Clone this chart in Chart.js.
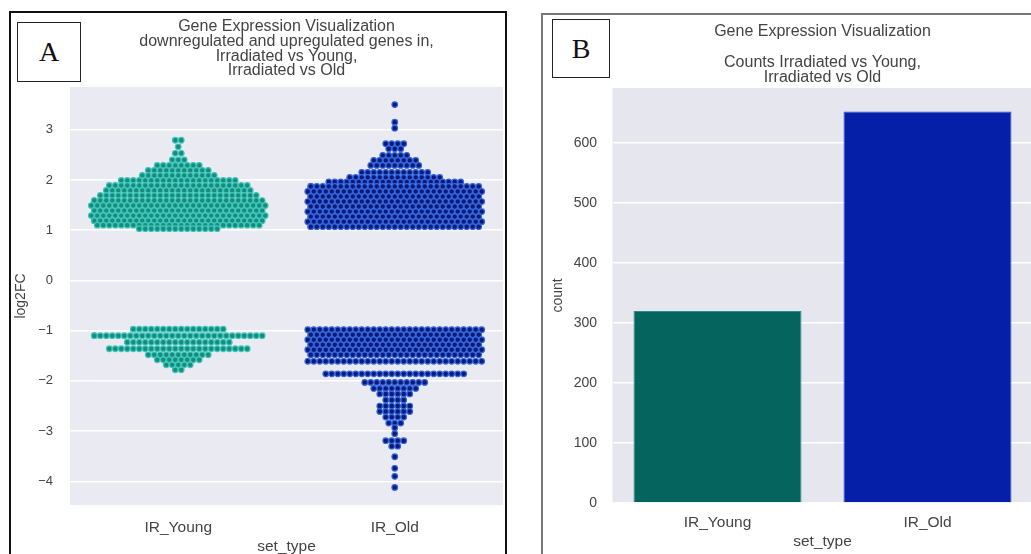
<!DOCTYPE html>
<html>
<head>
<meta charset="utf-8">
<script src="https://cdn.jsdelivr.net/npm/chart.js@4.4.1/dist/chart.umd.min.js"></script>
<style>
  html, body { margin: 0; padding: 0; background: #fff; overflow: hidden; width: 1031px; height: 554px; }
  .frame { position: absolute; box-sizing: border-box; }
  #frameA { left: 9px; top: 11px; width: 498px; height: 620px; border: 2px solid #111; }
  #frameB { left: 541px; top: 13px; width: 620px; height: 620px; border: 2px solid #777; }
  canvas { position: absolute; top: 0; }
  #chartA { left: 0; }
  #chartB { left: 543px; }
  .tag {
    position: absolute; box-sizing: border-box; border: 1.5px solid #222; background: #fff;
    font-family: "Liberation Serif", "DejaVu Serif", serif; font-size: 28px; color: #111;
    display: flex; align-items: center; justify-content: center;
  }
  #tagA { left: 17px; top: 22px; width: 64px; height: 60px; }
  #tagB { left: 552px; top: 19px; width: 58px; height: 59px; }
</style>
</head>
<body>
<div class="frame" id="frameA"></div>
<div class="frame" id="frameB"></div>
<canvas id="chartA" width="541" height="580"></canvas>
<canvas id="chartB" width="500" height="580"></canvas>
<div class="tag" id="tagA">A</div>
<div class="tag" id="tagB">B</div>
<script>
// categories and values
const categories = ["IR_Young", "IR_Old"];
const counts = [320, 653];
const logTicks = [-4, -3, -2, -1, 0, 1, 2, 3];
const countTicks = [0, 100, 200, 300, 400, 500, 600];

// swarm rows: [log2FC, number of genes in that row]
const youngUp = [[2.79, 2], [2.66, 1], [2.53, 2], [2.40, 3], [2.29, 8], [2.19, 11], [2.09, 13],
  [1.99, 20], [1.89, 24], [1.79, 25], [1.69, 27], [1.59, 30], [1.49, 30], [1.39, 30],
  [1.29, 30], [1.19, 30], [1.10, 28], [1.03, 14]];
const youngDown = [[-0.97, 16], [-1.10, 30], [-1.23, 18], [-1.36, 24], [-1.48, 11],
  [-1.58, 8], [-1.68, 5], [-1.78, 2]];
const oldUp = [[3.50, 1], [3.15, 1], [3.03, 1], [2.72, 4], [2.62, 3], [2.49, 5], [2.39, 8],
  [2.29, 9], [2.15, 12], [2.05, 16], [1.96, 23], [1.87, 30], [1.77, 30], [1.67, 30],
  [1.57, 30], [1.47, 30], [1.37, 30], [1.27, 30], [1.17, 30], [1.07, 30]];
const oldDown = [[-0.98, 30], [-1.08, 30], [-1.18, 30], [-1.28, 30], [-1.38, 30], [-1.48, 30],
  [-1.61, 30], [-1.86, 24], [-2.03, 11], [-2.15, 8], [-2.26, 6], [-2.38, 4], [-2.50, 6],
  [-2.61, 6], [-2.72, 4], [-2.84, 3], [-2.93, 1], [-3.05, 1], [-3.19, 4], [-3.30, 2],
  [-3.51, 1], [-3.74, 1], [-3.90, 1], [-4.12, 1]];

const titleA = ["Gene Expression Visualization", "downregulated and upregulated genes in,",
  "Irradiated vs Young,", "Irradiated vs Old"];
const titleB = ["Gene Expression Visualization", "", "Counts Irradiated vs Young,", "Irradiated vs Old"];

Chart.defaults.font.family = '"Liberation Sans", Arial, sans-serif';
Chart.defaults.color = "#444";

// lay rows out side by side around the category centre, like a swarm
const STEP = 0.0277;
const ROW_MAX = 30;
function swarm(rows, cat) {
  const pts = [];
  rows.forEach(([v, n], i) => {
    const m = Math.min(n, i % 2 ? ROW_MAX - 1 : ROW_MAX);
    for (let k = 0; k < n; k++) {
      const slot = k < m ? k - (m - 1) / 2 : (k % 2 ? -1 : 1) * (m - 1) / 2;
      pts.push({ x: cat + slot * STEP, y: v });
    }
  });
  return pts;
}

const plotBg = {
  id: "plotBg",
  beforeDraw(chart, args, opts) {
    const { ctx, chartArea: a } = chart;
    ctx.save();
    ctx.fillStyle = opts.color;
    ctx.fillRect(a.left, a.top, a.width, a.height);
    ctx.restore();
  }
};

const minus = v => String(v).replace("-", "\u2212");

new Chart(document.getElementById("chartA"), {
  type: "scatter",
  data: {
    datasets: [
      {
        data: swarm(youngUp, 0).concat(swarm(youngDown, 0)),
        backgroundColor: "#1a8a7e", borderColor: "#3cc8b8", borderWidth: 1.2, pointRadius: 2.8
      },
      {
        data: swarm(oldUp, 1).concat(swarm(oldDown, 1)),
        backgroundColor: "#0d1a78", borderColor: "#3366dd", borderWidth: 1.2, pointRadius: 2.8
      }
    ]
  },
  plugins: [plotBg],
  options: {
    responsive: false,
    animation: false,
    devicePixelRatio: 1,
    layout: { padding: { left: 0, right: 38, top: 0, bottom: 0 } },
    plugins: {
      legend: { display: false },
      tooltip: { enabled: false },
      plotBg: { color: "#eaeaf2" },
      title: {
        display: true, fullSize: false, text: titleA, color: "#444",
        font: { size: 16, weight: "normal", lineHeight: "14.8px" },
        padding: { top: 19.1, bottom: 8.7 }
      }
    },
    scales: {
      x: {
        type: "linear", min: -0.5, max: 1.5,
        afterBuildTicks: s => { s.ticks = categories.map((c, i) => ({ value: i })); },
        ticks: { callback: v => categories[v], padding: 13, font: { size: 15.5 }, color: "#444" },
        grid: { display: false, drawTicks: false },
        border: { display: false },
        title: { display: true, text: "set_type", font: { size: 15.5 }, color: "#444", padding: { top: 0, bottom: 24 } },
        afterFit: s => { s.height = 75; }
      },
      y: {
        min: -4.47, max: 3.85,
        afterBuildTicks: s => { s.ticks = logTicks.map(v => ({ value: v })); },
        ticks: { padding: 17, font: { size: 13 }, color: "#444", callback: minus },
        grid: { color: "#ffffff", lineWidth: 1.5, drawTicks: false },
        border: { display: false },
        title: { display: true, text: "log2FC", font: { size: 14 }, color: "#444", padding: { top: 12.6, bottom: 0 } },
        afterFit: s => { s.width = 70; }
      }
    }
  }
});

new Chart(document.getElementById("chartB"), {
  type: "bar",
  data: {
    labels: categories,
    datasets: [{
      data: counts,
      backgroundColor: ["#05645d", "#051fa8"],
      borderColor: ["#2a8f86", "#3050d8"],
      borderWidth: 1,
      barPercentage: 0.8,
      categoryPercentage: 1.0
    }]
  },
  plugins: [plotBg],
  options: {
    responsive: false,
    animation: false,
    devicePixelRatio: 1,
    layout: { padding: { left: 0, right: 10.5, top: 0, bottom: 0 } },
    plugins: {
      legend: { display: false },
      tooltip: { enabled: false },
      plotBg: { color: "#e6e6ee" },
      title: {
        display: true, fullSize: false, text: titleB, color: "#444",
        font: { size: 16, weight: "normal", lineHeight: "15.5px" },
        padding: { top: 23.5, bottom: 2.5 }
      }
    },
    scales: {
      x: {
        ticks: { padding: 10, font: { size: 15.5 }, color: "#444" },
        grid: { display: false, drawTicks: false },
        border: { display: false },
        title: { display: true, text: "set_type", font: { size: 15.5 }, color: "#444", padding: { top: 0, bottom: 29 } },
        afterFit: s => { s.height = 77; }
      },
      y: {
        min: 0, max: 692,
        afterBuildTicks: s => { s.ticks = countTicks.map(v => ({ value: v })); },
        ticks: { padding: 15.5, font: { size: 14 }, color: "#444" },
        grid: { color: "#ffffff", lineWidth: 1.5, drawTicks: false },
        border: { display: false },
        title: { display: true, text: "count", font: { size: 14 }, color: "#444", padding: { top: 6.6, bottom: 0 } },
        afterFit: s => { s.width = 69.5; }
      }
    }
  }
});
</script>
</body>
</html>
